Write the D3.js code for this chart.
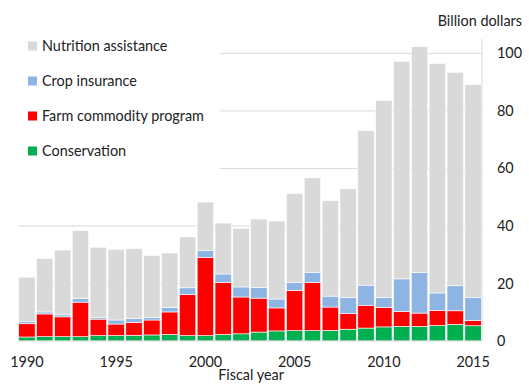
<!DOCTYPE html>
<html>
<head>
<meta charset="utf-8">
<script src="https://cdn.jsdelivr.net/npm/d3@7"></script>
<style>
  body { margin: 0; background: #fff; }
  text { font-family: Lato, "Open Sans", sans-serif; fill: #222; font-size: 14.4px; }
</style>
</head>
<body>
<div id="graph"></div>
<script>
// Années fiscales
const years = d3.range(1990, 2016)

// Valeurs par poste (milliards de dollars)
const conservation = [1.4, 1.5, 1.5, 1.5, 1.9, 1.9, 2.0, 2.1, 2.3, 1.9, 1.9, 2.3, 2.5, 3.1, 3.5, 3.6, 3.6, 3.7, 4.1, 4.5, 4.9, 5.1, 5.1, 5.4, 5.8, 5.3]
const farmCommodity = [4.6, 7.9, 6.9, 12.0, 5.7, 4.0, 4.4, 5.2, 7.8, 14.2, 27.2, 18.1, 12.8, 11.8, 8.0, 14.0, 16.7, 8.1, 5.4, 7.8, 6.8, 5.2, 4.6, 5.2, 4.7, 1.8]
const cropInsurance = [0.7, 0.7, 0.7, 1.3, 0.5, 1.4, 1.4, 0.9, 1.6, 2.4, 2.3, 2.9, 3.5, 3.7, 3.1, 2.7, 3.5, 3.8, 5.7, 7.1, 3.5, 11.3, 14.1, 6.1, 8.7, 8.1]
const nutrition = [15.5, 18.6, 22.5, 23.6, 24.5, 24.6, 24.3, 21.5, 18.9, 17.7, 16.9, 17.7, 20.4, 23.8, 27.1, 31.0, 32.9, 33.2, 37.7, 53.7, 68.4, 75.6, 78.5, 79.8, 74.2, 73.9]

const yTicks = [0, 20, 40, 60, 80, 100]
const xLabels = [1990, 1995, 2000, 2005, 2010, 2015]

// Séries dans l'ordre d'empilement (du bas vers le haut)
const series = [
    { key: "conservation", label: "Conservation", color: "#00b050", values: conservation },
    { key: "farm", label: "Farm commodity program", color: "#ff0000", values: farmCommodity },
    { key: "crop", label: "Crop insurance", color: "#8eb4e3", values: cropInsurance },
    { key: "nutrition", label: "Nutrition assistance", color: "#d9d9d9", values: nutrition }
]

const table = years.map((year, i) => {
    let row = { year: year }
    series.forEach(s => row[s.key] = s.values[i])
    return row
})

const W = 529, H = 384
const margin = { top: 39, right: 47, bottom: 43, left: 18 },
    width = W - margin.left - margin.right,
    height = H - margin.top - margin.bottom

const svg = d3.select("#graph")
    .append("svg")
    .attr("width", W)
    .attr("height", H)
    .append("g")
    .attr("transform", "translate(" + margin.left + "," + margin.top + ")")

const x = d3.scaleBand()
    .domain(years)
    .range([0, width])
    .paddingInner(0.08)
    .paddingOuter(0.04)

const y = d3.scaleLinear()
    .domain([0, 105])
    .range([height, 0])

// Grille horizontale
svg.append("g")
    .selectAll("line")
    .data(yTicks.filter(d => d > 0))
    .join("line")
    .attr("x1", 0)
    .attr("x2", width)
    .attr("y1", d => y(d))
    .attr("y2", d => y(d))
    .attr("stroke", "#d9d9d9")
    .attr("stroke-width", 1)

// Fond blanc de la légende (cache la grille)
svg.append("rect")
    .attr("x", 0)
    .attr("y", 0)
    .attr("width", 202)
    .attr("height", 132)
    .attr("fill", "#fff")

// Barres empilées
const stack = d3.stack().keys(series.map(s => s.key))
const layers = stack(table)

svg.append("g")
    .selectAll("g")
    .data(layers)
    .join("g")
    .attr("fill", (d, i) => series[i].color)
    .selectAll("rect")
    .data(d => d)
    .join("rect")
    .attr("x", d => x(d.data.year))
    .attr("y", d => y(d[1]))
    .attr("width", x.bandwidth())
    .attr("height", d => y(d[0]) - y(d[1]))
    .attr("stroke", "#fff")
    .attr("stroke-width", 0.6)

// Ligne de base
svg.append("line")
    .attr("x1", 0)
    .attr("x2", width)
    .attr("y1", y(0))
    .attr("y2", y(0))
    .attr("stroke", "#d9d9d9")

// Axe Y à droite
svg.append("line")
    .attr("x1", width)
    .attr("x2", width)
    .attr("y1", 0)
    .attr("y2", height)
    .attr("stroke", "#d9d9d9")

svg.append("g")
    .selectAll("text")
    .data(yTicks)
    .join("text")
    .attr("x", width + 15)
    .attr("y", d => y(d))
    .attr("dy", "0.35em")
    .text(d => d)

// Étiquettes de l'axe X
svg.append("g")
    .selectAll("text")
    .data(xLabels)
    .join("text")
    .attr("x", d => x(d) + x.bandwidth() / 2)
    .attr("y", height + 21)
    .attr("dy", "0.35em")
    .attr("text-anchor", "middle")
    .text(d => d)

// Titres des axes
svg.append("text")
    .attr("x", 233)
    .attr("y", height + 34)
    .attr("dy", "0.35em")
    .attr("text-anchor", "middle")
    .text("Fiscal year")

svg.append("text")
    .attr("x", W - margin.left - 7)
    .attr("y", -18)
    .attr("dy", "0.35em")
    .attr("text-anchor", "end")
    .text("Billion dollars")

// Légende
const legend = svg.append("g")
    .selectAll("g")
    .data(series.slice().reverse())
    .join("g")
    .attr("transform", (d, i) => "translate(10," + (7 + i * 35) + ")")

legend.append("rect")
    .attr("x", 0)
    .attr("y", -4.5)
    .attr("width", 9)
    .attr("height", 9)
    .attr("fill", d => d.color)

legend.append("text")
    .attr("x", 14)
    .attr("y", 0)
    .attr("dy", "0.35em")
    .text(d => d.label)
</script>
</body>
</html>
